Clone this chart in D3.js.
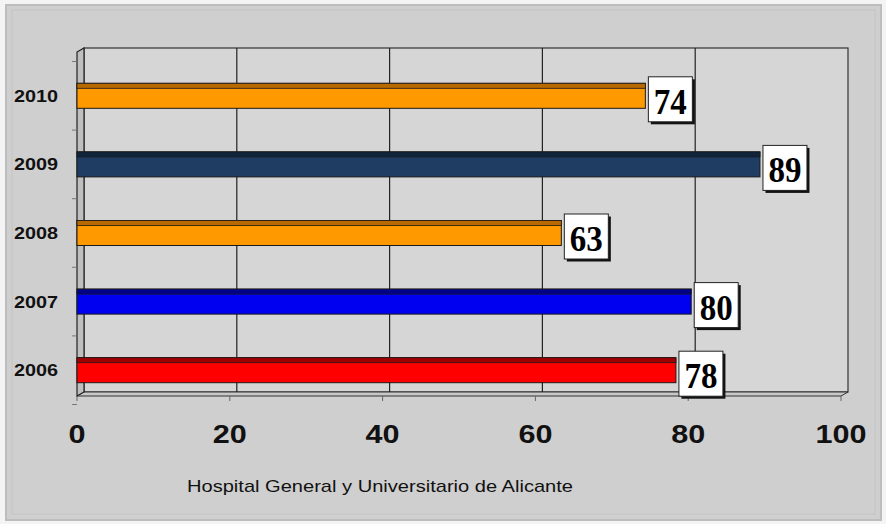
<!DOCTYPE html>
<html><head><meta charset="utf-8">
<script src="https://cdn.jsdelivr.net/npm/d3@7/dist/d3.min.js"></script>
<style>html,body{margin:0;padding:0;background:#fff;}svg{display:block;}</style>
</head><body>
<script>
const years = ["2006","2007","2008","2009","2010"];
const values = [78, 80, 63, 89, 74];
const colors = ["#ff0000","#0000f0","#ff9900","#1f3d63","#ff9900"];
const topColors = ["#a00000","#00008a","#b86a00","#10243c","#b86a00"];
const xTicks = [0,20,40,60,80,100];
const caption = "Hospital General y Universitario de Alicante";

const W = 886, H = 524;
const svg = d3.select("body").append("svg").attr("width", W).attr("height", H);

// outer background
svg.append("rect").attr("x",0).attr("y",0).attr("width",W).attr("height",H).attr("fill","#f4f4f4");
svg.append("rect").attr("x",6).attr("y",5).attr("width",875).attr("height",515).attr("fill","#cfcfcf").attr("stroke","#bdbdbd").attr("stroke-width",2);
svg.append("rect").attr("x",12).attr("y",10).attr("width",863).attr("height",504).attr("fill","none").attr("stroke","#c4c4c4").attr("stroke-width",1);

const x = d3.scaleLinear().domain([0,100]).range([77, 841]);
const y = d3.scalePoint().domain(years).range([404.5, 61.5]).padding(0.5);
const dx = 7, dy = -4;
const plotTop = 48, plotBottom = 396;

// back wall
svg.append("rect").attr("x", x(0)+dx).attr("y", plotTop).attr("width", x(100)-x(0)).attr("height", plotBottom+dy-plotTop)
  .attr("fill","#d6d6d6").attr("stroke","#333").attr("stroke-width",1.2);
// floor
svg.append("path").attr("d", `M${x(0)},${plotBottom} L${x(0)+dx},${plotBottom+dy} L${x(100)+dx},${plotBottom+dy} L${x(100)},${plotBottom} Z`)
  .attr("fill","#c8c8c8").attr("stroke","#333").attr("stroke-width",1);
// left side wall
svg.append("path").attr("d", `M${x(0)},${plotTop-dy} L${x(0)+dx},${plotTop} L${x(0)+dx},${plotBottom+dy} L${x(0)},${plotBottom} Z`)
  .attr("fill","#bfbfbf").attr("stroke","#222").attr("stroke-width",1.2);

// grid lines
svg.append("g").selectAll("line").data(xTicks.slice(1,-1)).join("line")
  .attr("x1", d=>x(d)+dx).attr("x2", d=>x(d)+dx).attr("y1", plotTop).attr("y2", plotBottom+dy)
  .attr("stroke","#222").attr("stroke-width",1.2);

// x axis ticks (small)
svg.append("g").selectAll("line").data(xTicks).join("line")
  .attr("x1", d=>x(d)).attr("x2", d=>x(d)).attr("y1", plotBottom).attr("y2", plotBottom+5)
  .attr("stroke","#666").attr("stroke-width",1);
// y ticks between categories
const step = y.step();
svg.append("g").selectAll("line").data(d3.range(years.length+1)).join("line")
  .attr("x1", x(0)-5).attr("x2", x(0)).attr("y1", d=>y("2006")+step/2 - d*step).attr("y2", d=>y("2006")+step/2 - d*step)
  .attr("stroke","#777").attr("stroke-width",1);

// bars
const bh = 25, bdx = 3;
const bars = svg.append("g");
years.forEach((yr,i)=>{
  const cy = y(yr);
  const x0 = x(0), x1 = x(values[i]) + bdx;
  bars.append("rect").attr("x", x0).attr("y", cy-bh/2).attr("width", x1-x0).attr("height", bh)
    .attr("fill", colors[i]).attr("stroke","#1a1a1a").attr("stroke-width",1);
  bars.append("rect").attr("x", x0).attr("y", cy-bh/2).attr("width", x1-x0).attr("height", 5)
    .attr("fill", topColors[i]).attr("stroke","#1a1a1a").attr("stroke-width",0.8);
});

// value labels
const lab = svg.append("g");
years.forEach((yr,i)=>{
  const bx = x(values[i]) + bdx + 3, by = y(yr) - 19, bw = 44, bhh = 45;
  lab.append("rect").attr("x", bx+2.5).attr("y", by+2.5).attr("width", bw).attr("height", bhh).attr("fill","#111");
  lab.append("rect").attr("x", bx).attr("y", by).attr("width", bw).attr("height", bhh).attr("fill","#fff").attr("stroke","#222").attr("stroke-width",1);
  lab.append("text").attr("x", bx+bw/2).attr("y", by+bhh-8).attr("text-anchor","middle")
    .attr("font-family","'Liberation Serif', 'Times New Roman', serif").attr("font-weight","bold").attr("font-size",36)
    .attr("textLength",33).attr("lengthAdjust","spacingAndGlyphs")
    .attr("fill","#000").text(values[i]);
});

// y labels
svg.append("g").selectAll("text").data(years).join("text")
  .attr("x", 58).attr("y", d=>y(d)+6).attr("text-anchor","end")
  .attr("font-family","'Liberation Sans', Arial, sans-serif").attr("font-weight","bold").attr("font-size",16)
  .attr("textLength",44).attr("lengthAdjust","spacingAndGlyphs")
  .attr("fill","#111").text(d=>d);

// x tick labels
svg.append("g").selectAll("text").data(xTicks).join("text")
  .attr("x", d=>x(d)).attr("y", 443).attr("text-anchor","middle")
  .attr("font-family","'Liberation Sans', Arial, sans-serif").attr("font-weight","bold").attr("font-size",25)
  .attr("textLength", d=>String(d).length*17).attr("lengthAdjust","spacingAndGlyphs")
  .attr("fill","#111").text(d=>d);

// caption
svg.append("text").attr("x", 187).attr("y", 492)
  .attr("font-family","'Liberation Sans', Arial, sans-serif").attr("font-size",17)
  .attr("textLength",386).attr("lengthAdjust","spacingAndGlyphs")
  .attr("fill","#111").text(caption);
</script>
</body></html>
